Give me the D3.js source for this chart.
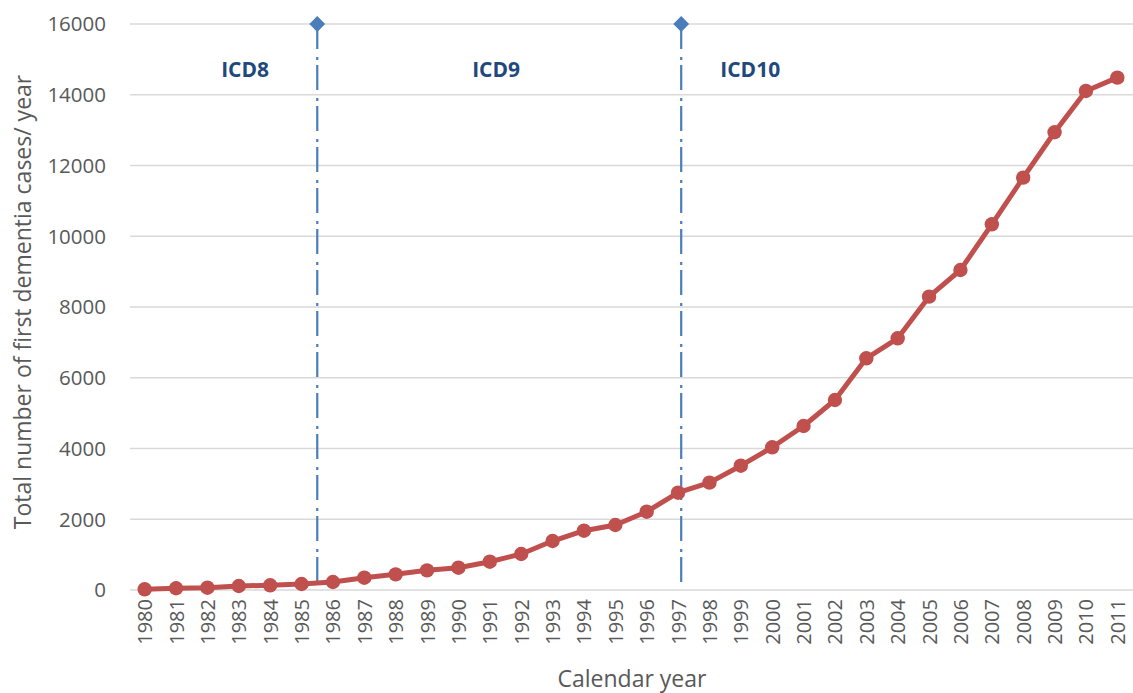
<html>
<head>
    <title>First dementia cases per year</title>
    <script src="https://d3js.org/d3.v7.min.js"></script>
    <style>
        body { margin: 0; background: #fff; }
        text { font-family: "Open Sans", sans-serif; }
    </style>
</head>
<body>
    <div id="chart"></div>
    <script type="text/javascript">
    // data
    var years = [1980, 1981, 1982, 1983, 1984, 1985, 1986, 1987, 1988, 1989, 1990,
        1991, 1992, 1993, 1994, 1995, 1996, 1997, 1998, 1999, 2000,
        2001, 2002, 2003, 2004, 2005, 2006, 2007, 2008, 2009, 2010, 2011];
    var cases = [20, 50, 65, 113, 133, 170, 226, 348, 443, 556, 631,
        800, 1018, 1385, 1677, 1838, 2214, 2751, 3034, 3514, 4034,
        4636, 5371, 6550, 7115, 8292, 9046, 10338, 11656, 12939, 14107, 14483];
    var yTicks = [0, 2000, 4000, 6000, 8000, 10000, 12000, 14000, 16000];
    // ICD period boundaries (year position) and labels
    var boundaries = [1985.5, 1997.1];
    var icdLabels = ["ICD8", "ICD9", "ICD10"];
    var icdLabelYears = [1983.2, 1991.2, 1999.3];

    var width = 1133, height = 693;
    var margin = { top: 24, right: 0, bottom: 103, left: 129 };

    var svg = d3.select("#chart").append("svg")
        .attr("width", width)
        .attr("height", height);

    var x = d3.scaleBand()
        .domain(years)
        .range([margin.left, width - margin.right]);

    // numeric year -> pixel, lined up with band centres
    var xNum = d3.scaleLinear()
        .domain([1980, 2011])
        .range([x(1980) + x.bandwidth() / 2, x(2011) + x.bandwidth() / 2]);

    var y = d3.scaleLinear()
        .domain([0, 16000])
        .range([height - margin.bottom, margin.top]);

    // gridlines
    svg.append("g")
        .selectAll("line")
        .data(yTicks)
        .enter()
        .append("line")
        .attr("x1", margin.left + 1)
        .attr("x2", width - margin.right)
        .attr("y1", function(d) { return y(d); })
        .attr("y2", function(d) { return y(d); })
        .attr("stroke", "#d9d9d9")
        .attr("stroke-width", 1.5);

    // y axis labels
    svg.append("g")
        .selectAll("text")
        .data(yTicks)
        .enter()
        .append("text")
        .attr("x", 106)
        .attr("y", function(d) { return y(d); })
        .attr("dy", "0.36em")
        .attr("text-anchor", "end")
        .attr("font-size", 20.5)
        .attr("fill", "#595959")
        .text(function(d) { return d; });

    // x axis labels (rotated)
    svg.append("g")
        .selectAll("text")
        .data(years)
        .enter()
        .append("text")
        .attr("transform", function(d) {
            return "translate(" + (x(d) + x.bandwidth() / 2 + 7.5) + "," + 599 + ") rotate(-90)";
        })
        .attr("text-anchor", "end")
        .attr("font-size", 20)
        .attr("fill", "#595959")
        .text(function(d) { return d; });

    // axis titles
    svg.append("text")
        .attr("x", 632)
        .attr("y", 687)
        .attr("text-anchor", "middle")
        .attr("font-size", 23)
        .attr("fill", "#595959")
        .text("Calendar year");

    svg.append("text")
        .attr("transform", "translate(31," + 302 + ") rotate(-90)")
        .attr("text-anchor", "middle")
        .attr("font-size", 23)
        .attr("fill", "#595959")
        .text("Total number of first dementia cases/ year");

    // ICD boundary lines
    svg.append("g")
        .selectAll("line")
        .data(boundaries)
        .enter()
        .append("line")
        .attr("x1", function(d) { return xNum(d); })
        .attr("x2", function(d) { return xNum(d); })
        .attr("y1", y(16000))
        .attr("y2", y(0))
        .attr("stroke", "#4a7ebb")
        .attr("stroke-width", 2.2)
        .attr("stroke-dasharray", "25,8,3,5");

    svg.append("g")
        .selectAll("path")
        .data(boundaries)
        .enter()
        .append("path")
        .attr("d", d3.symbol().type(d3.symbolDiamond2).size(160))
        .attr("transform", function(d) { return "translate(" + xNum(d) + "," + y(16000) + ")"; })
        .attr("fill", "#4a7ebb");

    // ICD labels
    svg.append("g")
        .selectAll("text")
        .data(icdLabels)
        .enter()
        .append("text")
        .attr("x", function(d, i) { return xNum(icdLabelYears[i]); })
        .attr("y", 77)
        .attr("text-anchor", "middle")
        .attr("font-size", 21)
        .attr("font-weight", "bold")
        .attr("fill", "#1f497d")
        .text(function(d) { return d; });

    // the series
    var line = d3.line()
        .x(function(d, i) { return x(years[i]) + x.bandwidth() / 2; })
        .y(function(d) { return y(d); });

    svg.append("path")
        .datum(cases)
        .attr("fill", "none")
        .attr("stroke", "#c0504d")
        .attr("stroke-width", 5)
        .attr("stroke-linejoin", "round")
        .attr("d", line);

    svg.append("g")
        .selectAll("circle")
        .data(cases)
        .enter()
        .append("circle")
        .attr("cx", function(d, i) { return x(years[i]) + x.bandwidth() / 2; })
        .attr("cy", function(d) { return y(d); })
        .attr("r", 7.2)
        .attr("fill", "#c0504d");
    </script>
</body>
</html>
